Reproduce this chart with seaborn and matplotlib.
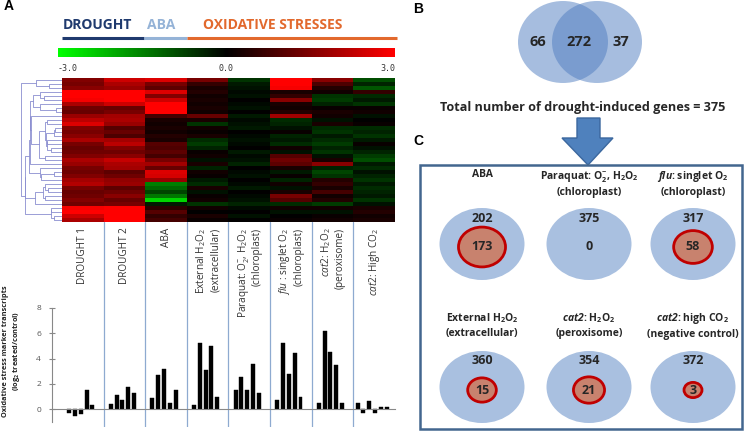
import numpy as np
import pandas as pd
import matplotlib
matplotlib.use('Agg')
import matplotlib.pyplot as plt
import seaborn as sns
from matplotlib.colors import LinearSegmentedColormap
from matplotlib.patches import Ellipse, Rectangle, Polygon

# ---- panel A heatmap: log2 ratios, one list per condition, top row first
drought1 = [1.5, 1.4, 1.6, 3.0, 3.0, 2.9, 2.0, 1.3, 1.2, 1.8, 2.2, 2.6, 1.5, 1.4, 1.6, 2.0, 1.4, 1.2,
            1.3, 1.5, 2.0, 1.8, 1.4, 1.3, 1.5, 1.9, 2.1, 1.4, 1.2, 1.3, 1.5, 1.3, 2.9, 3.0, 2.4, 2.0]
drought2 = [2.4, 2.0, 1.8, 3.0, 3.0, 3.0, 2.4, 1.2, 1.4, 1.9, 2.0, 1.8, 1.0, 1.2, 0.9, 1.9, 2.2, 1.5,
            1.3, 1.6, 2.3, 2.0, 1.9, 1.1, 1.3, 1.7, 1.8, 1.1, 1.3, 1.6, 1.2, 1.4, 3.0, 3.0, 3.0, 3.0]
aba = [2.6, 1.4, 1.1, 2.6, 1.5, 2.4, 3.0, 3.0, 3.0, 0.8, 0.3, 0.2, 0.3, 0.2, 0.4, 0.3, 1.0, 0.9,
       1.1, 0.8, 1.4, 1.9, 1.2, 2.6, 2.5, 1.8, -1.5, -1.2, -0.8, -1.4, -2.5, -0.3, 0.5, 1.0, 0.6, 0.8]
ext_h2o2 = [1.4, 0.6, 0.3, 0.4, 0.2, 0.3, 0.2, 0.3, 0.2, 1.2, 0.3, -0.6, 0.2, 0.1, 0.3, -0.5, -0.7, -0.4,
            0.1, 0.2, -0.2, 0.3, -0.4, 0.2, 0.1, -0.3, -0.5, 0.3, -0.2, 0.1, 0.2, -0.6, 0.2, 0.0, 0.3, 0.1]
paraquat = [-0.6, -0.3, -0.2, -0.1, -0.2, 0.0, -0.1, -0.2, 0.0, -0.3, -0.1, -0.2, -0.3, 0.0, -0.1, -0.2, -0.1, 0.0,
            -0.3, -0.1, -0.2, -0.4, 0.0, -0.1, -0.2, 0.0, -0.1, -0.3, 0.0, -0.1, -0.2, -0.4, -0.1, 0.0, -0.2, 0.0]
flu = [3.0, 3.0, 2.9, 0.3, 0.6, 1.6, 0.3, 0.2, 0.4, 1.9, -0.5, -0.4, -0.2, 0.1, -0.4, -0.3, -0.5, 0.2,
       -0.2, 1.0, 1.3, 1.1, 0.3, -0.3, 0.1, -0.4, 0.2, -0.2, 0.3, 1.4, 1.0, -0.5, 0.2, -0.2, 0.0, 0.1]
cat2_h2o2 = [1.6, 0.9, 0.4, 0.2, -0.6, -0.7, -0.4, 0.1, 0.3, 0.2, -0.2, 0.3, -0.5, -0.6, -0.3, -0.5, -0.7, -0.4,
             -0.6, -0.2, 0.3, 1.6, -0.4, -0.8, -0.6, 0.4, 0.6, 0.3, 0.8, 0.2, 0.4, -0.7, 0.2, -0.2, 0.1, 0.2]
cat2_co2 = [-0.9, -0.4, -1.0, 0.6, -0.5, -0.3, -0.6, 0.1, 0.2, -0.2, 0.0, 0.1, -0.5, -0.4, -0.6, -0.3, 0.1, -0.2,
            -0.4, -0.7, -0.9, -0.3, -0.5, -0.2, -0.4, -0.6, -0.3, -0.5, -0.4, -0.3, -0.6, -0.2, 0.3, 0.4, 0.2, 0.3]

column_labels = ['DROUGHT 1', 'DROUGHT 2', 'ABA',
                 'External H$_2$O$_2$\n(extracellular)',
                 'Paraquat: O$_2^{-}$, H$_2$O$_2$\n(chloroplast)',
                 '$\\it{flu}$ : singlet O$_2$\n(chloroplast)',
                 '$\\it{cat2}$: H$_2$O$_2$\n(peroxisome)',
                 '$\\it{cat2}$: High CO$_2$']

# ---- panel A bars: oxidative stress marker transcripts (log2 treated/control)
bars_drought1 = [-0.3, -0.5, -0.35, 1.55, 0.35]
bars_drought2 = [0.4, 1.1, 0.7, 1.8, 1.3]
bars_aba = [0.9, 2.7, 3.2, 0.5, 1.5]
bars_ext_h2o2 = [0.35, 5.2, 3.1, 5.0, 1.0]
bars_paraquat = [1.5, 2.55, 1.5, 3.6, 1.3]
bars_flu = [0.75, 5.25, 2.8, 4.45, 1.0]
bars_cat2_h2o2 = [0.5, 6.2, 4.5, 3.5, 0.5]
bars_cat2_co2 = [0.5, -0.3, 0.65, -0.3, 0.15, 0.15]

# ---- panel B venn
only_drought1 = 66
both_droughts = 272
only_drought2 = 37
total_induced = 375

# ---- panel C overlaps with drought-induced genes
c_titles = ['ABA',
            'Paraquat: O$_\\mathbf{2}^{\\mathbf{-}}$, H$_\\mathbf{2}$O$_\\mathbf{2}$\n(chloroplast)',
            '$\\mathbfit{flu}$: singlet O$_\\mathbf{2}$\n(chloroplast)',
            'External H$_\\mathbf{2}$O$_\\mathbf{2}$\n(extracellular)',
            '$\\mathbfit{cat2}$: H$_\\mathbf{2}$O$_\\mathbf{2}$\n(peroxisome)',
            '$\\mathbfit{cat2}$: high CO$_\\mathbf{2}$\n(negative control)']
c_not_shared = [202, 375, 317, 360, 354, 372]
c_shared = [173, 0, 58, 15, 21, 3]

sns.set_theme(style='white')
FONT = 'Open Sans'
plt.rcParams['font.family'] = [FONT, 'DejaVu Sans']
plt.rcParams.update({'mathtext.fontset': 'custom', 'mathtext.rm': FONT,
                     'mathtext.it': FONT + ':italic', 'mathtext.bf': FONT + ':bold',
                     'mathtext.bfit': FONT + ':italic:bold'})

W, H = 750, 432
fig = plt.figure(figsize=(7.5, 4.32), dpi=100)


def box(x0, y0, x1, y1):
    return [x0 / W, 1 - y1 / H, (x1 - x0) / W, (y1 - y0) / H]


canvas = fig.add_axes([0, 0, 1, 1])
canvas.set_xlim(0, W)
canvas.set_ylim(H, 0)
canvas.axis('off')

# panel letters
for letter, (lx, ly) in zip('ABC', [(4, 6), (413, 9), (413, 141)]):
    canvas.text(lx, ly, letter, fontsize=10, fontweight='bold', va='center', ha='left',
                color='black', family='Liberation Sans')

# treatment group headers
groups = [('DROUGHT', '#1f3a6e', 62, 144, 63), ('ABA', '#95b3d7', 144, 187, 147),
          ('OXIDATIVE STRESSES', '#e2692d', 187, 397, 203)]
for name, col, x0, x1, tx in groups:
    canvas.text(tx, 25, name, color=col, fontsize=10,
                fontweight='bold', ha='left', va='center')
    canvas.plot([x0, x1], [38, 38], color=col, lw=2.2, solid_capstyle='butt')

# heatmap
heat = pd.DataFrame({'DROUGHT 1': drought1, 'DROUGHT 2': drought2, 'ABA': aba,
                     'External': ext_h2o2, 'Paraquat': paraquat, 'flu': flu,
                     'cat2 H2O2': cat2_h2o2, 'cat2 CO2': cat2_co2})
rg = LinearSegmentedColormap.from_list('rg', ['#00ff00', '#000000', '#ff0000'])
ax_h = fig.add_axes(box(62, 78, 395, 222))
ax_cb = fig.add_axes(box(58, 48, 395, 57))
sns.heatmap(heat, ax=ax_h, cmap=rg, vmin=-3, vmax=3, cbar_ax=ax_cb,
            cbar_kws={'orientation': 'horizontal'}, yticklabels=False)
ax_h.set_xticklabels(column_labels, rotation=90, fontsize=7.2, color='#333333',
                     multialignment='right')
ax_h.tick_params(axis='x', length=0, pad=4)

ax_h.collections[0].colorbar.outline.set_visible(False)
ax_cb.set_xticks([-3, 0, 3])
ax_cb.set_xticklabels(['-3.0', '0.0', '3.0'], family='DejaVu Sans Mono', fontsize=6, color='#333333')
for lab, ha in zip(ax_cb.get_xticklabels(), ['left', 'center', 'right']):
    lab.set_ha(ha)
ax_cb.tick_params(axis='x', length=0, pad=5)

# dendrogram: join adjacent rows so the tree follows heatmap order
vals = heat.to_numpy()
clusters = [[i] for i in range(len(vals))]
pos = [i + 0.5 for i in range(len(vals))]
height = [0.0] * len(vals)
links = []
while len(clusters) > 1:
    d = [np.linalg.norm(vals[clusters[k]].mean(0) - vals[clusters[k + 1]].mean(0))
         for k in range(len(clusters) - 1)]
    k = int(np.argmin(d))
    h = max(d[k], height[k], height[k + 1]) + 0.05
    links.append((pos[k], pos[k + 1], height[k], height[k + 1], h))
    clusters[k] = clusters[k] + clusters.pop(k + 1)
    pos[k] = (pos[k] + pos.pop(k + 1)) / 2
    height[k] = h
    height.pop(k + 1)
ax_d = fig.add_axes(box(20, 78, 62, 222))
for p1, p2, h1, h2, h in links:
    ax_d.plot([h1, h, h, h2], [p1, p1, p2, p2], color='#8a8ed0', lw=0.6)
ax_d.set_xlim(max(height) * 1.02, 0)
ax_d.set_ylim(len(vals), 0)
ax_d.axis('off')

# separators below the heatmap
ax_sep = fig.add_axes(box(62, 222, 395, 427))
ax_sep.set_xlim(0, 8)
ax_sep.set_ylim(0, 1)
ax_sep.axis('off')
for i in range(1, 8):
    ax_sep.axvline(i, color='#8eaad0', lw=0.9)

# bar chart
bar_groups = [bars_drought1, bars_drought2, bars_aba, bars_ext_h2o2,
              bars_paraquat, bars_flu, bars_cat2_h2o2, bars_cat2_co2]
rows = []
for g, gv in enumerate(bar_groups):
    n = len(gv)
    for i, v in enumerate(gv):
        rows.append({'pos': round(g + 0.45 + (i - (n - 1) / 2) * 0.14, 4), 'value': v})
bars = pd.DataFrame(rows)
ax_b = fig.add_axes(box(52, 308, 395, 422))
ax_b.patch.set_alpha(0)
sns.barplot(data=bars, x='pos', y='value', native_scale=True, color='black', saturation=1,
            width=0.68, errorbar=None, ax=ax_b, edgecolor='black', linewidth=0.3)
ax_b.set_xlim(-0.24, 8)
ax_b.set_ylim(-1, 8)
ax_b.set_xticks([])
ax_b.set_yticks([0, 2, 4, 6, 8])
ax_b.set_xlabel('')
ax_b.set_ylabel('')
ax_b.tick_params(axis='y', labelsize=6, labelcolor='#555555', length=4, direction='inout',
                 width=0.8, color='#888888', left=True, pad=6)
for s in ['top', 'right']:
    ax_b.spines[s].set_visible(False)
ax_b.spines['bottom'].set_position(('data', 0))
for s in ['left', 'bottom']:
    ax_b.spines[s].set_color('#888888')
    ax_b.spines[s].set_linewidth(0.8)
canvas.text(12, 351, 'Oxidative stress marker transcripts\n(log$_\\mathbf{2}$ treated/control)',
            rotation=90, fontsize=5.3, fontweight='bold', ha='center', va='center',
            multialignment='center', color='#222222', linespacing=1.3)

# panel B venn
canvas.add_patch(Ellipse((563, 42), 90, 82, fc='#4f7dc0', ec='none', alpha=0.5))
canvas.add_patch(Ellipse((597, 42), 90, 82, fc='#4f7dc0', ec='none', alpha=0.5))
for x, n in zip([538, 579, 621], [only_drought1, both_droughts, only_drought2]):
    canvas.text(x, 42, str(n), fontsize=10.5, fontweight='bold', ha='center', va='center')
canvas.text(583, 107, f'Total number of drought-induced genes = {total_induced}',
            fontsize=9.1, fontweight='bold', ha='center', va='center')

# arrow into panel C
canvas.add_patch(Polygon([(577, 118), (600, 118), (600, 138), (613, 138), (588, 165),
                          (562, 138), (577, 138)], closed=True, fc='#4f81bd', ec='#3b679e', lw=1))
canvas.add_patch(Rectangle((420, 165), 322, 264, fill=False, ec='#43668f', lw=1.8))

# panel C cells
xs = [482, 589, 693]
for idx, (title, outer, inner) in enumerate(zip(c_titles, c_not_shared, c_shared)):
    cx = xs[idx % 3]
    row = idx // 3
    ty = 169 if row == 0 else 311
    cy = 244 if row == 0 else 387
    canvas.text(cx, ty, title, fontsize=7.5, fontweight='bold', ha='center', va='top',
                multialignment='center', linespacing=1.4)
    canvas.add_patch(Ellipse((cx, cy), 85, 72, fc='#a9c0e0', ec='none'))
    canvas.text(cx, cy - 26, str(outer), fontsize=9, fontweight='bold', ha='center', va='center')
    if inner > 0:
        w = 7.3 + 7.7 * np.log(inner + 1)
        canvas.add_patch(Ellipse((cx, cy + 3), w, w / 1.18, fc='#c8826e', ec='#c00000', lw=2))
    canvas.text(cx, cy + 3, str(inner), fontsize=9, fontweight='bold', ha='center', va='center')

fig.savefig('out.png', dpi=100)
